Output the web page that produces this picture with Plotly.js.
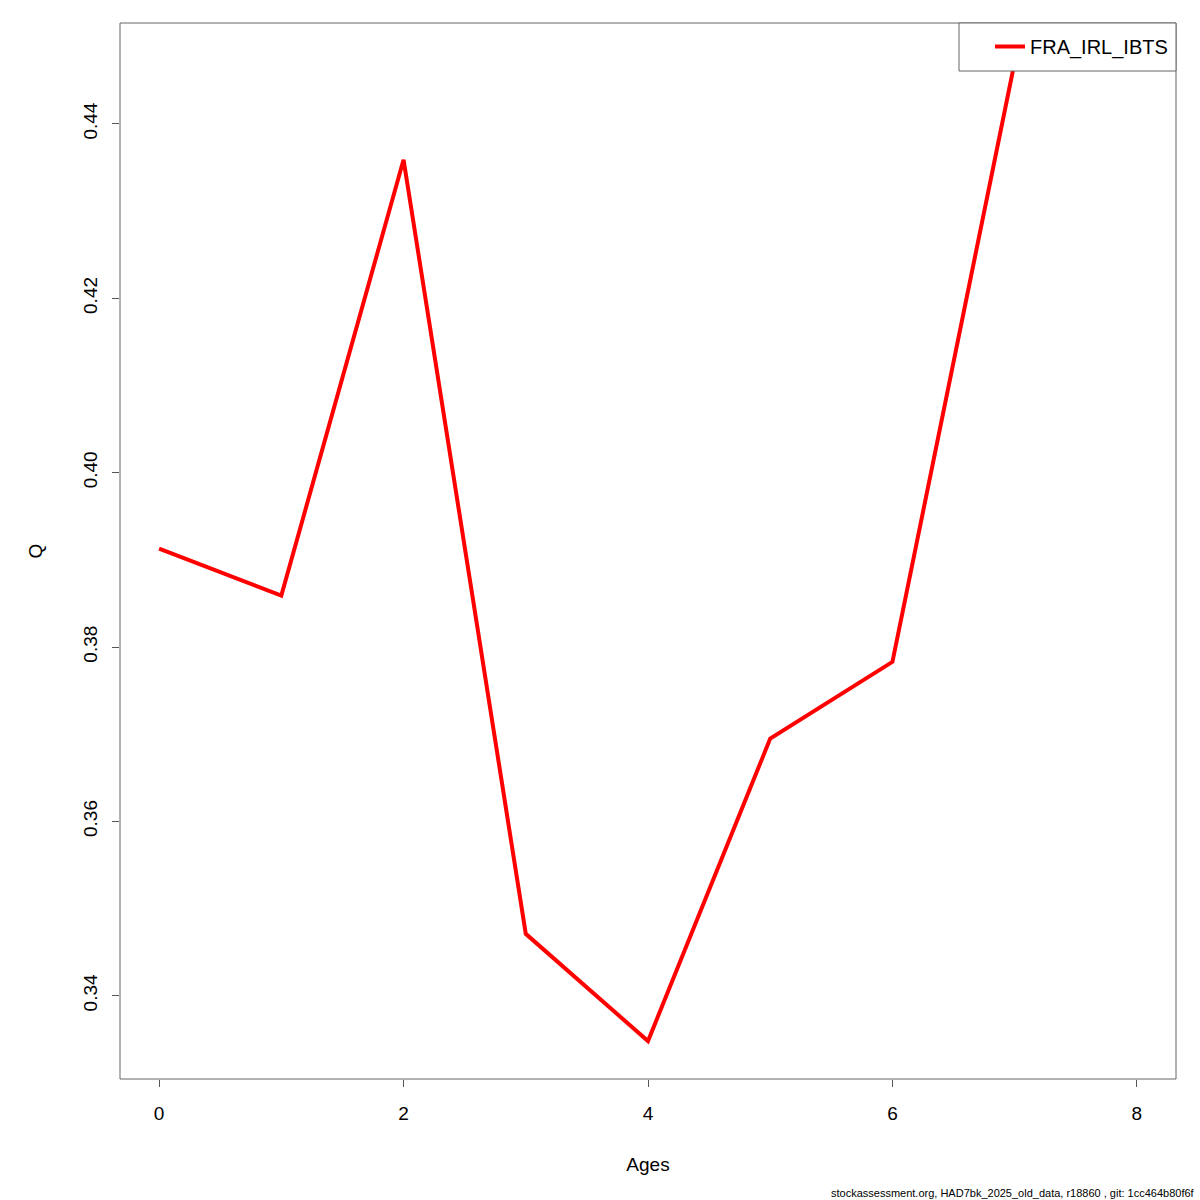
<!DOCTYPE html>
<html>
<head>
<meta charset="utf-8">
<script src="https://cdn.plot.ly/plotly-3.0.1.min.js"></script>
<style>html,body{margin:0;padding:0;background:#fff;}</style>
</head>
<body>
<div id="chart" style="width:1200px;height:1200px;"></div>
<script>
const ages = [0, 1, 2, 3, 4, 5, 6, 7, 8];
const qValues = [0.3913, 0.3859, 0.4359, 0.3471, 0.3348, 0.3695, 0.3783, 0.4471, 0.4471];
const seriesName = "FRA_IRL_IBTS";
const xTicks = [0, 2, 4, 6, 8];
const yTicks = [0.34, 0.36, 0.38, 0.40, 0.42, 0.44];
const yTickLabels = ["0.34", "0.36", "0.38", "0.40", "0.42", "0.44"];
const footer = "stockassessment.org, HAD7bk_2025_old_data, r18860 , git: 1cc464b80f6f";

const font = {family: "Liberation Sans, Arial, sans-serif", size: 19, color: "#000"};
const plotW = 1056, plotH = 1056;

const data = [{
  x: ages, y: qValues, type: "scatter", mode: "lines", name: seriesName,
  line: {color: "#ff0000", width: 4}
}];

const layout = {
  width: 1200, height: 1200,
  margin: {l: 120, r: 24, t: 23, b: 121},
  paper_bgcolor: "#fff", plot_bgcolor: "#fff",
  font: font,
  showlegend: true,
  legend: {
    x: (990 - 120) / plotW, xanchor: "left", y: 1 - 4 / plotH, yanchor: "top",
    borderwidth: 0, bgcolor: "rgba(0,0,0,0)",
    font: {family: font.family, size: 20, color: "#000"}
  },
  xaxis: {
    range: [-0.32, 8.32], tickvals: xTicks, ticks: "outside", ticklen: 7, tickcolor: "#555",
    showgrid: false, zeroline: false, showline: false,
    tickfont: font, ticklabelstandoff: 10,
    title: {text: "Ages", font: font, standoff: 34}
  },
  yaxis: {
    range: [0.33045, 0.45158], tickvals: yTicks, ticktext: yTickLabels, tickangle: -90,
    ticks: "outside", ticklen: 7, tickcolor: "#555",
    showgrid: false, zeroline: false, showline: false,
    tickfont: font, ticklabelstandoff: 7,
    title: {text: "Q", font: font, standoff: 32}
  },
  shapes: [
    {
      type: "rect", xref: "paper", yref: "paper", x0: 0, x1: 1, y0: 0, y1: 1,
      line: {color: "#666", width: 1}
    },
    {
      type: "rect", xref: "paper", yref: "paper", layer: "above",
      x0: (959 - 120) / plotW, x1: 1, y0: 1 - 48 / plotH, y1: 1,
      fillcolor: "#fff", line: {color: "#666", width: 1}
    }
  ],
  annotations: [{
    text: footer, xref: "paper", yref: "paper", x: 1.02, y: -0.108,
    xanchor: "right", yanchor: "middle", showarrow: false,
    font: {family: "Liberation Sans, Arial, sans-serif", size: 11, color: "#000"}
  }]
};

Plotly.newPlot("chart", data, layout, {displayModeBar: false});
</script>
</body>
</html>
